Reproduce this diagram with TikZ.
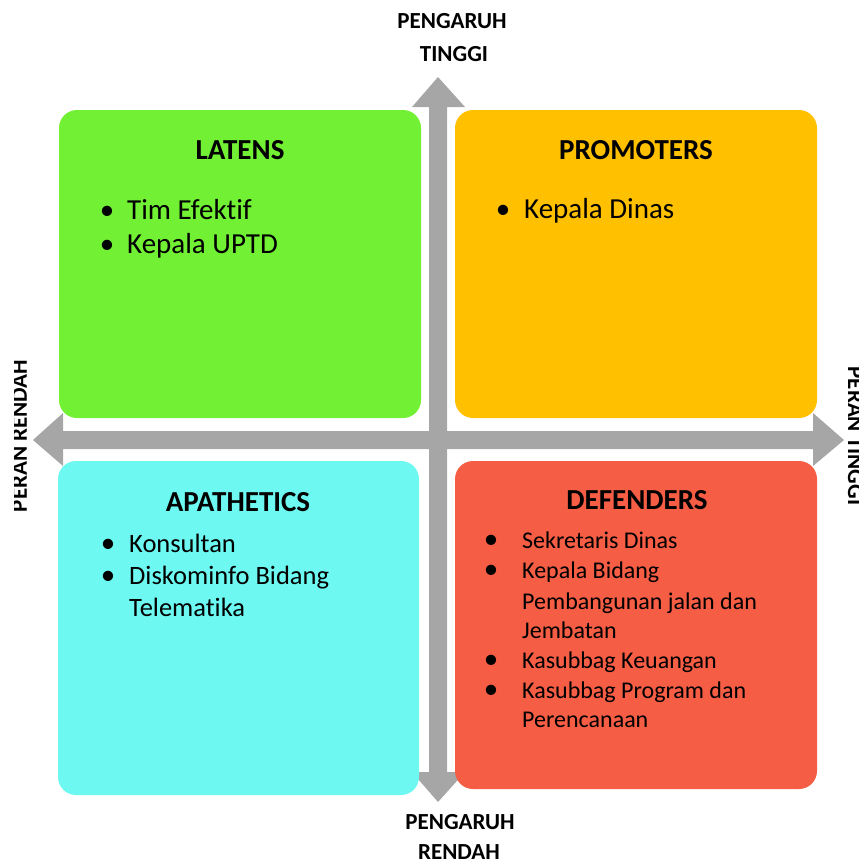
\documentclass[tikz,border=0pt]{standalone}
\usepackage{fontspec}
\setmainfont{Carlito}[Ligatures={NoCommon}]
\usetikzlibrary{positioning}
\definecolor{latgreen}{RGB}{114,240,52}
\definecolor{promorange}{RGB}{255,192,0}
\definecolor{apacyan}{RGB}{109,249,242}
\definecolor{defred}{RGB}{246,93,69}
\definecolor{axisgray}{RGB}{166,166,166}
\tikzstyle{quadrant}=[rounded corners=18pt,inner sep=0pt,draw=none]
\tikzstyle{title}=[anchor=base,inner sep=0pt,font=\bfseries\fontsize{29}{35}\selectfont]
\tikzstyle{item}=[anchor=base west,inner sep=0pt,font=\fontsize{29}{35}\selectfont]
\tikzstyle{smallitem}=[anchor=base west,inner sep=0pt,font=\fontsize{24}{30}\selectfont]
\tikzstyle{dot}=[anchor=base,inner sep=0pt,font=\fontsize{29}{35}\selectfont]
\tikzstyle{axislabel}=[anchor=base,inner sep=0pt,font=\bfseries\fontsize{23}{28}\selectfont]

\begin{document}
\begin{tikzpicture}[x=1pt,y=-1pt]

  \useasboundingbox (0,0) rectangle (859,863);
  \clip (0,0) rectangle (859,863);

  % axes
  \fill[axisgray] (438,77) -- (465,107) -- (447,107) -- (447,772) -- (465,772) -- (438,802)
        -- (412,772) -- (429,772) -- (429,107) -- (412,107) -- cycle;
  \fill[axisgray] (33,440) -- (63,413) -- (63,431) -- (813,431) -- (813,413) -- (844,440)
        -- (813,466) -- (813,449) -- (63,449) -- (63,466) -- cycle;

  % quadrants
  \node[quadrant,fill=latgreen,minimum width=362pt,minimum height=308pt] (latens) at (240,264) {};
  \node[quadrant,fill=promorange,minimum width=362pt,minimum height=308pt] (promoters) at (636,264) {};
  \node[quadrant,fill=apacyan,minimum width=361pt,minimum height=334pt] (apathetics) at (238.5,628) {};
  \node[quadrant,fill=defred,minimum width=362pt,minimum height=328pt] (defenders) at (636,625) {};

  \node[title] (latT) at (240,159) {LATENS};
  \node[title] (promT) at (636,159) {PROMOTERS};
  \node[title] (apaT) at (238,511) {APATHETICS};
  \node[title] (defT) at (637,509) {DEFENDERS};

  \foreach \y/\txt [count=\i] in {219/Tim Efektif, 253/Kepala UPTD}{
    \node[dot] (latdot\i) at (107,\y) {•};
    \node[item] (lat\i) at (127,\y) {\txt};
  }
  \node[dot] (promdot1) at (503,218) {•};
  \node[item] (prom1) at (524,218) {Kepala Dinas};

  \foreach \y/\txt [count=\i] in {552/Konsultan, 584/Diskominfo Bidang}{
    \node[dot] (apadot\i) at (108,\y) {•};
    \node[item,font=\fontsize{26.5}{32}\selectfont] (apa\i) at (129,\y) {\txt};
  }
  \node[item,font=\fontsize{26.5}{32}\selectfont] (apa3) at (129,616) {Telematika};

  \foreach \y/\txt [count=\i] in {548/Sekretaris Dinas, 578/Kepala Bidang, 668/Kasubbag Keuangan, 698/Kasubbag Program dan}{
    \node[dot] (defdot\i) at (491,\y) {•};
  }
  \foreach \y/\txt [count=\i] in {548/Sekretaris Dinas, 578/Kepala Bidang, 609/Pembangunan jalan dan, 638/Jembatan,
      668/Kasubbag Keuangan, 698/Kasubbag Program dan, 727/Perencanaan}{
    \node[smallitem] (def\i) at (522,\y) {\txt};
  }

  % axis labels
  \node[axislabel] (topA) at (452,28) {PENGARUH};
  \node[axislabel] (topB) at (454,61) {TINGGI};
  \node[axislabel] (botA) at (460,829) {PENGARUH};
  \node[axislabel] (botB) at (459,859) {RENDAH};

  \begin{scope}
    \clip (14,300) rectangle (100,600);
    \node[axislabel,rotate=90] (leftL) at (27,436) {PERAN RENDAH};
  \end{scope}
  \node[axislabel,rotate=-90] (rightL) at (848,436) {PERAN TINGGI};

\end{tikzpicture}
\end{document}
